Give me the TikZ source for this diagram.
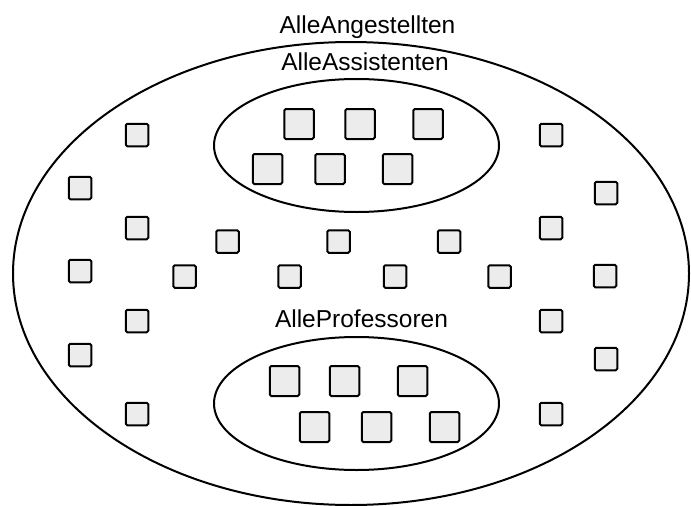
\documentclass[tikz,border=0pt]{standalone}
\usepackage{fontspec}
\setmainfont{Liberation Sans}
\usepackage{tikz}
\usetikzlibrary{shapes.geometric}
\tikzstyle{menge} = [ellipse, draw=black, line width=2pt, inner sep=0pt]
\tikzstyle{person} = [rectangle, rounded corners=1.5pt, draw=black,
    line width=2pt, fill=gray!15, minimum width=22.5pt,
minimum height=22.5pt, inner sep=0pt]
\tikzstyle{bigperson} = [person, minimum width=29.5pt, minimum height=30pt]
\tikzstyle{setlabel} = [draw=none, anchor=base, inner sep=0pt,
font=\fontsize{24.5}{29}\selectfont]

\begin{document}
\begin{tikzpicture}[x=1pt, y=-1pt]
            \useasboundingbox (0,0) rectangle (691,506);
            % Mengen
            \node[menge, minimum width=676pt, minimum height=463pt] (alle) at (351,273.5) {};
            \node[menge, minimum width=285pt, minimum height=133pt] (assi) at (356.5,145.5) {};
            \node[menge, minimum width=285pt, minimum height=133pt] (prof) at (356.5,403.5) {};
            \node[setlabel] (allelabel) at (367.5,33) {AlleAngestellten};
            \node[setlabel] (assilabel) at (365,70) {AlleAssistenten};
            \node[setlabel] (proflabel) at (361.5,327) {AlleProfessoren};
            % Assistenten
            \node[bigperson] (as1) at (299,124) {};
            \node[bigperson] (as2) at (360,124) {};
            \node[bigperson] (as3) at (428,124) {};
            \node[bigperson] (as4) at (267.5,169) {};
            \node[bigperson] (as5) at (330,169) {};
            \node[bigperson] (as6) at (397.5,169) {};
            % Professoren
            \node[bigperson] (pr1) at (284.5,381) {};
            \node[bigperson] (pr2) at (344.5,381) {};
            \node[bigperson] (pr3) at (412.5,381) {};
            \node[bigperson] (pr4) at (314.5,427) {};
            \node[bigperson] (pr5) at (376.5,427) {};
            \node[bigperson] (pr6) at (444.5,427) {};
            % Angestellte
            \node[person] (an1) at (80,188) {};
            \node[person] (an2) at (80,271) {};
            \node[person] (an3) at (80,355) {};
            \node[person] (an4) at (137,135) {};
            \node[person] (an5) at (137,228) {};
            \node[person] (an6) at (137,321) {};
            \node[person] (an7) at (137,414) {};
            \node[person] (an8) at (551,135) {};
            \node[person] (an9) at (551,228) {};
            \node[person] (an10) at (551,321) {};
            \node[person] (an11) at (551,414) {};
            \node[person] (an12) at (606,193) {};
            \node[person] (an13) at (605,276) {};
            \node[person] (an14) at (606,359) {};
            \node[person] (an15) at (227.5,241.5) {};
            \node[person] (an16) at (338.5,241.5) {};
            \node[person] (an17) at (449,241.5) {};
            \node[person] (an18) at (184.5,276.5) {};
            \node[person] (an19) at (289.5,276.5) {};
            \node[person] (an20) at (395,276.5) {};
            \node[person] (an21) at (499.5,276.5) {};

        \end{tikzpicture}
\end{document}
